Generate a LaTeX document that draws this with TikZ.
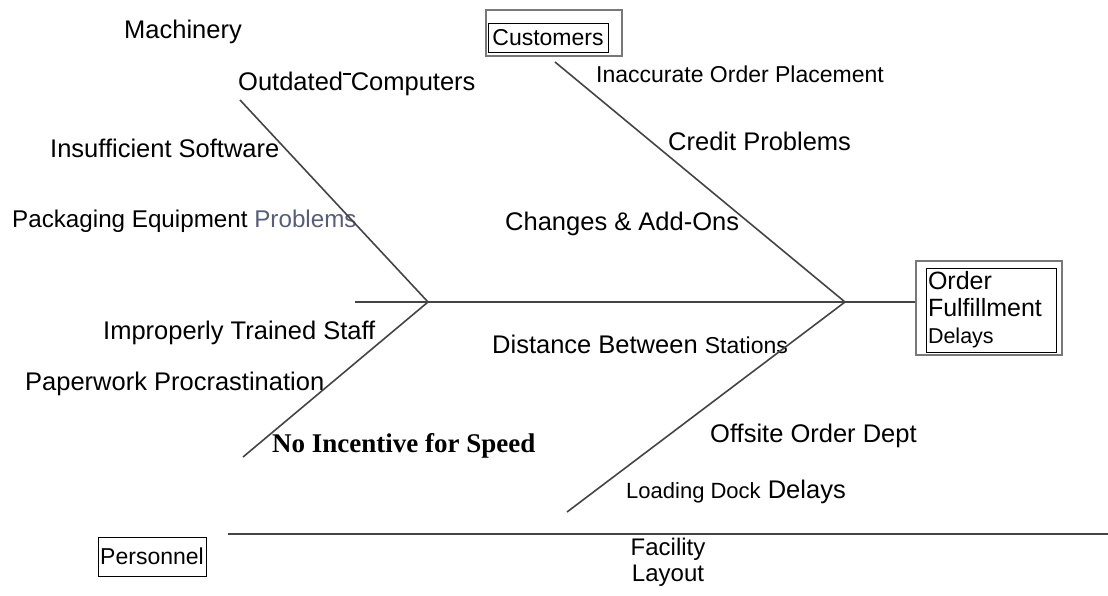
\documentclass[tikz,border=0pt]{standalone}
\usepackage{fontspec}
\setmainfont{Liberation Sans}
\newfontfamily\serifbold{Liberation Serif}[BoldFont={Liberation Serif Bold}]
\usepackage{xcolor}
\usetikzlibrary{positioning}
\definecolor{bonegray}{RGB}{68, 68, 68}
\definecolor{framegray}{RGB}{120, 120, 120}
\definecolor{slateblue}{RGB}{88, 94, 122}

\begin{document}
\begin{tikzpicture}[
    x=1pt, y=-1pt,
    cause/.style={anchor=west, inner sep=0pt, font=\fontsize{25.5}{29}\selectfont},
    minor/.style={anchor=west, inner sep=0pt, font=\fontsize{23}{27}\selectfont},
    catbox/.style={draw=black, line width=0.9pt, inner sep=1pt, font=\fontsize{23}{27}\selectfont},
    outerbox/.style={draw=framegray, line width=2.2pt, inner sep=0pt},
    bone/.style={draw=bonegray, line width=1.6pt}
]
    \useasboundingbox (0,0) rectangle (1108,595);

    % joints of the skeleton
    \coordinate (leftjoint) at (428,302);
    \coordinate (rightjoint) at (845,302);
    \coordinate (tail) at (355,302);
    \coordinate (ultip) at (240,100);
    \coordinate (lltip) at (243,457);
    \coordinate (urtip) at (555,62);
    \coordinate (lrtip) at (567,512);
    \coordinate (floorleft) at (228,534);
    \coordinate (floorright) at (1108,534);

    % head and category boxes
    \node[outerbox, minimum width=146pt, minimum height=94pt] (headframe) at (989,308) {};
    \node[catbox, minimum width=130pt, minimum height=84pt, text width=126pt, align=left, font=\fontsize{25}{27}\selectfont] (effect) at (991,310)
        {Order\\Fulfillment\\{\fontsize{21.5}{24}\selectfont Delays}};
    \node[outerbox, minimum width=136pt, minimum height=46pt] (custframe) at (554,33) {};
    \node[catbox, minimum width=120pt, minimum height=29pt] (customers) at (548,37.5) {Customers};
    \node[catbox, minimum width=108pt, minimum height=39pt] (personnel) at (152,556.5) {Personnel};
    \node[align=center, inner sep=0pt, font=\fontsize{24}{26}\selectfont] (facility) at (668,562) {Facility\\Layout};

    % causes
    \node[cause] (machinery) at (124,32) {Machinery};
    \node[cause] (computers) at (238,84) {Outdated\rule[0.62em]{0.3em}{0.07em}Computers};
    \node[cause] (software) at (50,148) {Insufficient Software};
    \node[cause, font=\fontsize{24.2}{28}\selectfont] (packaging) at (12,221) {Packaging Equipment \textcolor{slateblue}{Problems}};
    \node[minor] (placement) at (596,74) {Inaccurate Order Placement};
    \node[cause] (credit) at (668,141) {Credit Problems};
    \node[cause] (changes) at (505,224) {Changes \& Add-Ons};
    \node[cause] (training) at (103,333) {Improperly Trained Staff};
    \node[cause] (paperwork) at (25,384) {Paperwork Procrastination};
    \node[anchor=west, inner sep=0pt, font=\serifbold\bfseries\fontsize{27}{30}\selectfont] (incentive) at (272,446) {No Incentive for Speed};
    \node[cause] (distance) at (492,344) {Distance Between {\fontsize{23}{27}\selectfont Stations}};
    \node[cause] (offsite) at (710,436) {Offsite Order Dept};
    \node[cause] (dock) at (626,492) {{\fontsize{22}{27}\selectfont Loading Dock} Delays};

    % skeleton
    \draw[bone] (tail) -- (rightjoint) -- (rightjoint -| headframe.west);
    \draw[bone] (ultip) -- (leftjoint);
    \draw[bone] (lltip) -- (leftjoint);
    \draw[bone] (urtip) -- (rightjoint);
    \draw[bone] (lrtip) -- (rightjoint);
    \draw[bone] (floorleft) -- (floorright);
\end{tikzpicture}
\end{document}
